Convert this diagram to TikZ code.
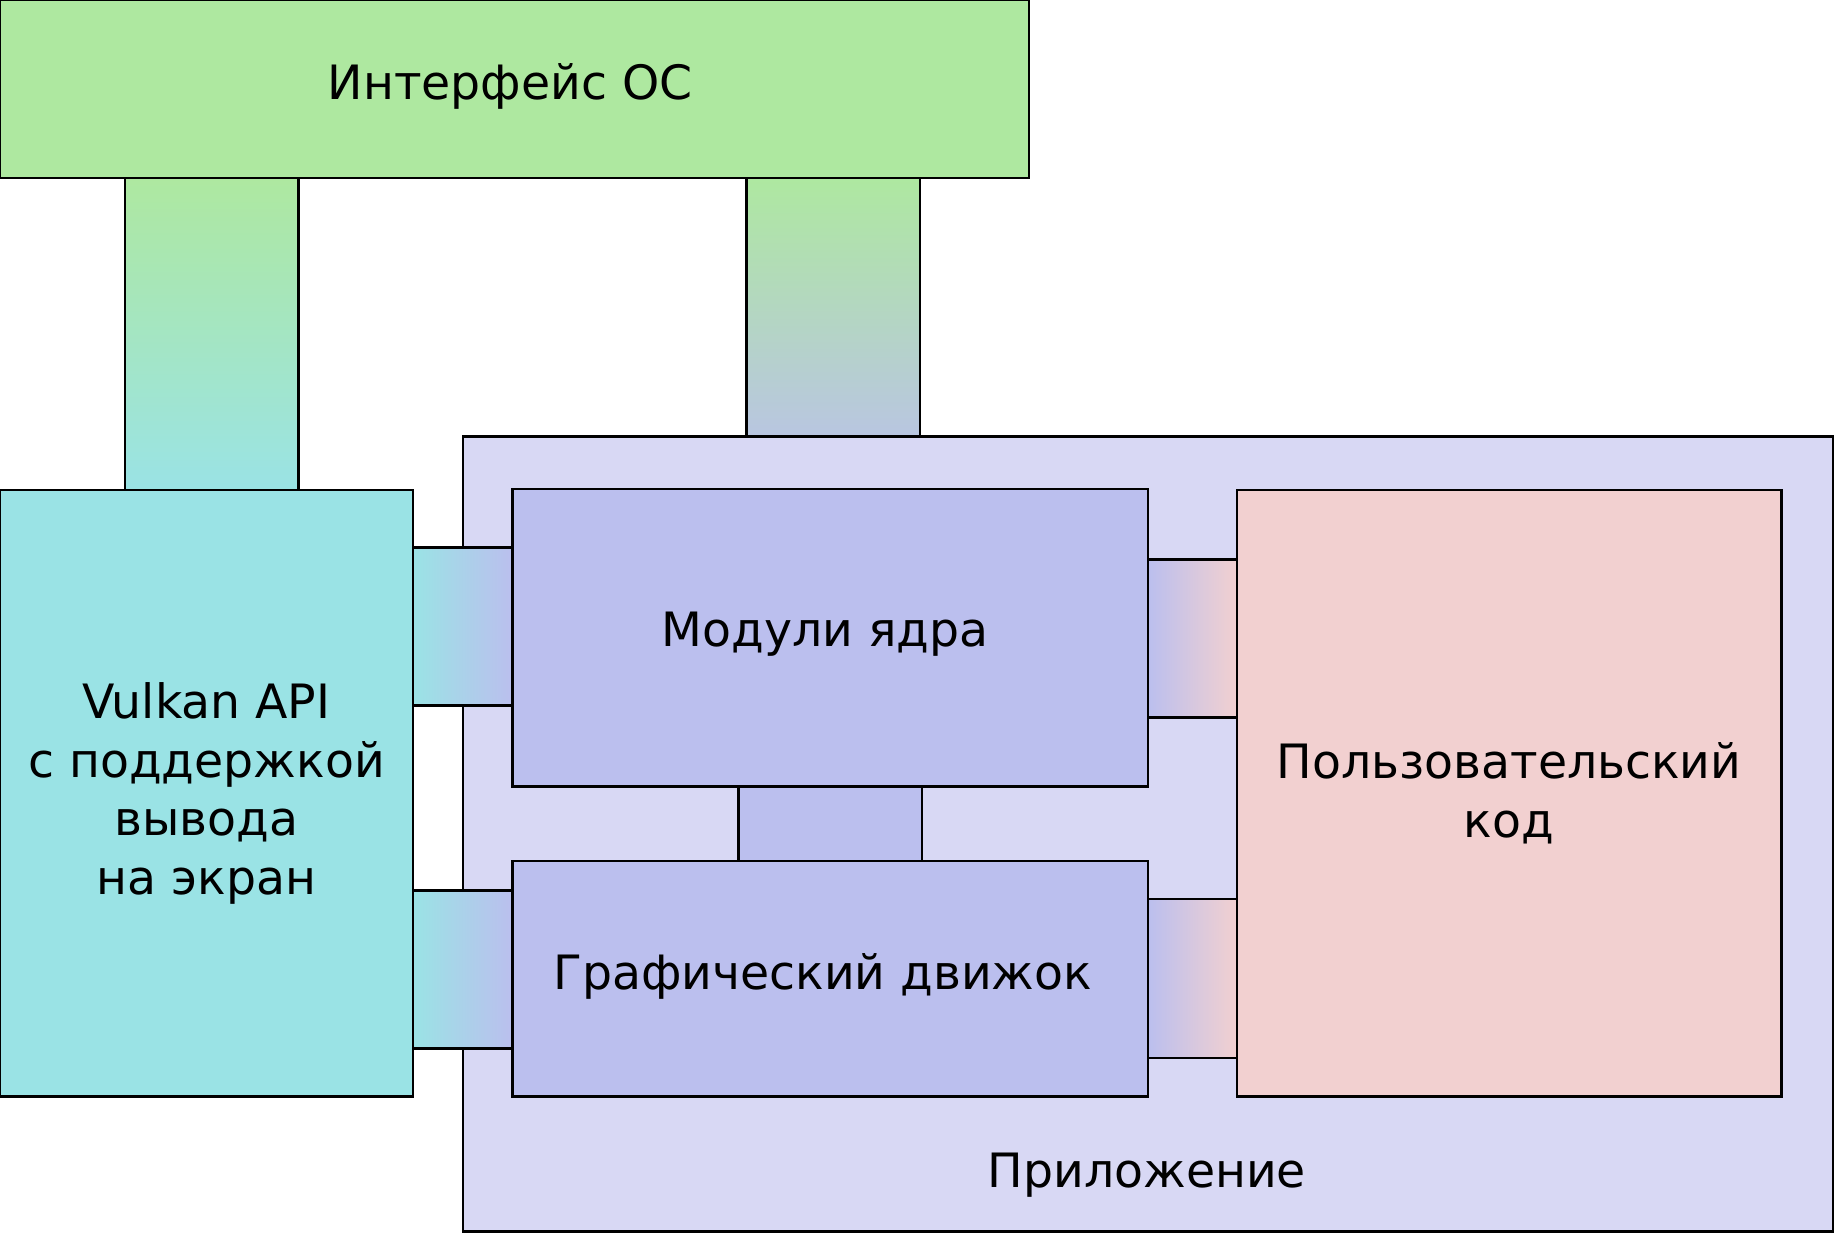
\documentclass[tikz,border=0pt]{standalone}
\usepackage{fontspec}
\setmainfont{DejaVu Sans}
\usetikzlibrary{positioning,calc}
\definecolor{osgreen}{HTML}{AEE8A0}
\definecolor{vkcyan}{HTML}{9AE3E5}
\definecolor{corelav}{HTML}{BBBFEE}
\definecolor{applav}{HTML}{D8D8F4}
\definecolor{userpink}{HTML}{F2D0D0}
\tikzset{
  blk/.style={draw, rectangle, line width=0.6pt, inner sep=0pt, align=center,
    font=\fontsize{11.5}{14.2}\selectfont},
  band/.style={draw, line width=0.6pt}
}
\begin{document}
\begin{tikzpicture}[x=0.01cm, y=-0.01cm]
    \useasboundingbox (0,0) rectangle (1568,1054);
    % Nodes
    \node [blk, fill=osgreen, minimum width=8.79cm, minimum height=1.52cm] (os) at (439.5,76) {};
    \node [font=\fontsize{11.5}{14.2}\selectfont] (oslabel) at (436,74) {Интерфейс ОС};
    \shade [band, top color=osgreen, bottom color=vkcyan] (107,152) rectangle (255,419);
    \shade [band, top color=osgreen, bottom color=corelav] (638,152) rectangle (786,418);
    \node [blk, fill=applav, minimum width=11.7cm, minimum height=6.79cm] (app) at (981,712.5) {};
    \node [font=\fontsize{11.5}{14.2}\selectfont] (applabel) at (980,1004) {Приложение};
    \shade [band, left color=vkcyan, right color=corelav] (353,468) rectangle (438,603);
    \shade [band, left color=vkcyan, right color=corelav] (353,761) rectangle (438,896);
    \shade [band, left color=corelav, right color=userpink] (981,478) rectangle (1057,613);
    \shade [band, left color=corelav, right color=userpink] (981,768) rectangle (1057,904);
    \draw [band, fill=corelav] (631,672) rectangle (788,736);
    \node [blk, fill=vkcyan, minimum width=3.53cm, minimum height=5.18cm] (vulkan) at (176.5,678)
      {Vulkan API\\с поддержкой\\вывода\\на экран};
    \node [blk, fill=corelav, minimum width=5.43cm, minimum height=2.54cm] (core) at (709.5,545) {};
    \node [font=\fontsize{11.5}{14.2}\selectfont] (corelabel) at (705,542) {Модули ядра};
    \node [blk, fill=corelav, minimum width=5.43cm, minimum height=2.01cm] (gfx) at (709.5,836.5) {};
    \node [font=\fontsize{11.5}{14.2}\selectfont] (gfxlabel) at (703,834) {Графический движок};
    \node [blk, fill=userpink, minimum width=4.65cm, minimum height=5.18cm] (user) at (1289.5,678)
      {Пользовательский\\код};
\end{tikzpicture}
\end{document}
